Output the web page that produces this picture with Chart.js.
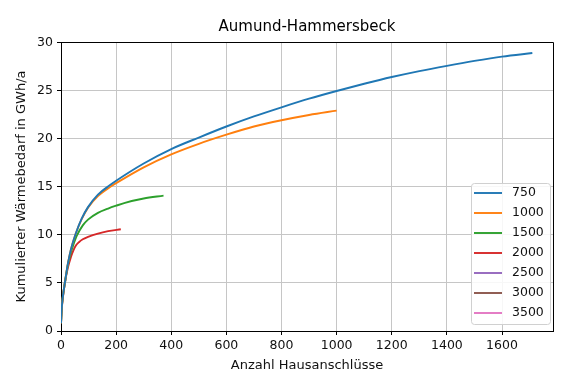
<!DOCTYPE html>
<html>
<head>
<meta charset="utf-8">
<script src="https://cdn.jsdelivr.net/npm/chart.js@4/dist/chart.umd.min.js"></script>
<style>
  body { margin: 0; background: #fff; }
  canvas { display: block; }
</style>
</head>
<body>
<canvas id="chart" width="567" height="383"></canvas>
<script>
// Kumulierter Waermebedarf je Mindest-Waermedichte
const seriesLabels = ['750', '1000', '1500', '2000', '2500', '3000', '3500'];
const seriesColors = ['#1f77b4', '#ff7f0e', '#2ca02c', '#d62728', '#9467bd', '#8c564b', '#e377c2'];

const x750 = [0, 3, 6, 14, 25, 36, 53, 75, 98, 134, 178, 200, 300, 400, 500, 600, 700, 800, 900, 1000, 1100, 1200, 1300, 1400, 1500, 1600, 1710];
const y750 = [0.8, 2.5, 3.4, 5.0, 7.0, 8.5, 10.1, 11.7, 12.9, 14.2, 15.2, 15.65, 17.45, 18.95, 20.15, 21.3, 22.35, 23.3, 24.2, 25.0, 25.75, 26.45, 27.07, 27.62, 28.13, 28.58, 28.95];

const x1000 = [0, 3, 6, 14, 25, 36, 53, 75, 98, 134, 178, 200, 300, 400, 500, 600, 700, 800, 900, 1000];
const y1000 = [0.8, 2.5, 3.4, 5.0, 7.0, 8.5, 10.1, 11.65, 12.85, 14.05, 15.0, 15.4, 17.05, 18.4, 19.5, 20.45, 21.3, 21.95, 22.5, 22.95];

const x1500 = [0, 3, 6, 14, 25, 36, 45, 57, 79, 98, 134, 171, 200, 232, 300, 372];
const y1500 = [0.8, 2.5, 3.4, 5.0, 6.9, 8.2, 9.0, 9.9, 11.0, 11.6, 12.3, 12.75, 13.05, 13.35, 13.8, 14.1];

const x2000 = [0, 3, 6, 14, 25, 36, 45, 54, 65, 79, 98, 134, 171, 217];
const y2000 = [0.8, 2.4, 3.3, 5.0, 6.6, 7.7, 8.4, 8.9, 9.25, 9.55, 9.8, 10.15, 10.4, 10.6];

const x2500 = [];
const y2500 = [];
const x3000 = [];
const y3000 = [];
const x3500 = [];
const y3500 = [];

const seriesX = [x750, x1000, x1500, x2000, x2500, x3000, x3500];
const seriesY = [y750, y1000, y1500, y2000, y2500, y3000, y3500];

const xTicks = [0, 200, 400, 600, 800, 1000, 1200, 1400, 1600];
const yTicks = [0, 5, 10, 15, 20, 25, 30];

const FONT = 'DejaVu Sans';

const datasets = seriesLabels.map((label, i) => ({
    label: label,
    data: seriesX[i].map((x, j) => ({ x: x, y: seriesY[i][j] })),
    borderColor: seriesColors[i],
    backgroundColor: seriesColors[i],
    borderWidth: 1.9,
    pointRadius: 0,
    cubicInterpolationMode: 'monotone',
    fill: false
}));

// top/right frame like matplotlib
const framePlugin = {
    id: 'frame',
    afterDatasetsDraw(chart) {
        const a = chart.chartArea;
        const ctx = chart.ctx;
        ctx.save();
        ctx.strokeStyle = '#000';
        ctx.lineWidth = 1;
        ctx.beginPath();
        ctx.moveTo(a.left, a.top + 0.5);
        ctx.lineTo(a.right + 0.5, a.top + 0.5);
        ctx.lineTo(a.right + 0.5, a.bottom);
        ctx.stroke();
        ctx.restore();
    }
};

// legend box in the lower right corner of the plot
const boxLegend = {
    id: 'boxLegend',
    afterDraw(chart) {
        const a = chart.chartArea;
        const ctx = chart.ctx;
        const w = 79, rowH = 20;
        const h = rowH * seriesLabels.length + 1;
        const left = a.right - 3 - w;
        const top = a.bottom - 7 - h;
        ctx.save();
        ctx.fillStyle = 'rgba(255,255,255,0.85)';
        ctx.strokeStyle = '#d0d0d0';
        ctx.lineWidth = 1;
        ctx.beginPath();
        ctx.roundRect(left + 0.5, top + 0.5, w, h, 3);
        ctx.fill();
        ctx.stroke();
        ctx.font = '12.5px "' + FONT + '"';
        ctx.textBaseline = 'middle';
        ctx.textAlign = 'left';
        seriesLabels.forEach((label, i) => {
            const y = top + 10 + i * rowH;
            ctx.strokeStyle = seriesColors[i];
            ctx.lineWidth = 1.9;
            ctx.beginPath();
            ctx.moveTo(left + 3, y);
            ctx.lineTo(left + 31, y);
            ctx.stroke();
            ctx.fillStyle = '#111';
            ctx.fillText(label, left + 41, y);
        });
        ctx.restore();
    }
};

new Chart(document.getElementById('chart'), {
    type: 'line',
    data: { datasets: datasets },
    options: {
        responsive: false,
        animation: false,
        layout: { padding: { left: 10, right: 14, top: 0, bottom: 6 } },
        plugins: {
            legend: { display: false },
            tooltip: { enabled: false },
            title: {
                display: true,
                text: 'Aumund-Hammersbeck',
                fullSize: false,
                color: '#000',
                font: { family: FONT, size: 15, weight: 'normal' },
                padding: { top: 18, bottom: 6 }
            }
        },
        scales: {
            x: {
                type: 'linear',
                min: 0,
                max: 1785,
                afterBuildTicks: (scale) => { scale.ticks = xTicks.map(v => ({ value: v })); },
                afterFit: (scale) => { scale.height = 46; },
                ticks: {
                    color: '#111',
                    font: { family: FONT, size: 12.5 },
                    padding: 3,
                    maxRotation: 0,
                    autoSkip: false,
                    callback: (v) => String(v)
                },
                grid: { color: '#c6c6c6', lineWidth: 1, tickColor: '#000', tickLength: 4 },
                border: { display: true, color: '#000', width: 1 },
                title: {
                    display: true,
                    text: 'Anzahl Hausanschlüsse',
                    color: '#111',
                    font: { family: FONT, size: 13 },
                    padding: { top: 4, bottom: 4 }
                }
            },
            y: {
                type: 'linear',
                min: 0,
                max: 30.1,
                afterBuildTicks: (scale) => { scale.ticks = yTicks.map(v => ({ value: v })); },
                afterFit: (scale) => { scale.width = 51; },
                ticks: {
                    color: '#111',
                    font: { family: FONT, size: 12.5 },
                    padding: 4,
                    autoSkip: false,
                    callback: (v) => String(v)
                },
                grid: { color: '#c6c6c6', lineWidth: 1, tickColor: '#000', tickLength: 4 },
                border: { display: true, color: '#000', width: 1 },
                title: {
                    display: true,
                    text: 'Kumulierter Wärmebedarf in GWh/a',
                    color: '#111',
                    font: { family: FONT, size: 13 },
                    padding: { top: 4, bottom: 4 }
                }
            }
        }
    },
    plugins: [framePlugin, boxLegend]
});
</script>
</body>
</html>
